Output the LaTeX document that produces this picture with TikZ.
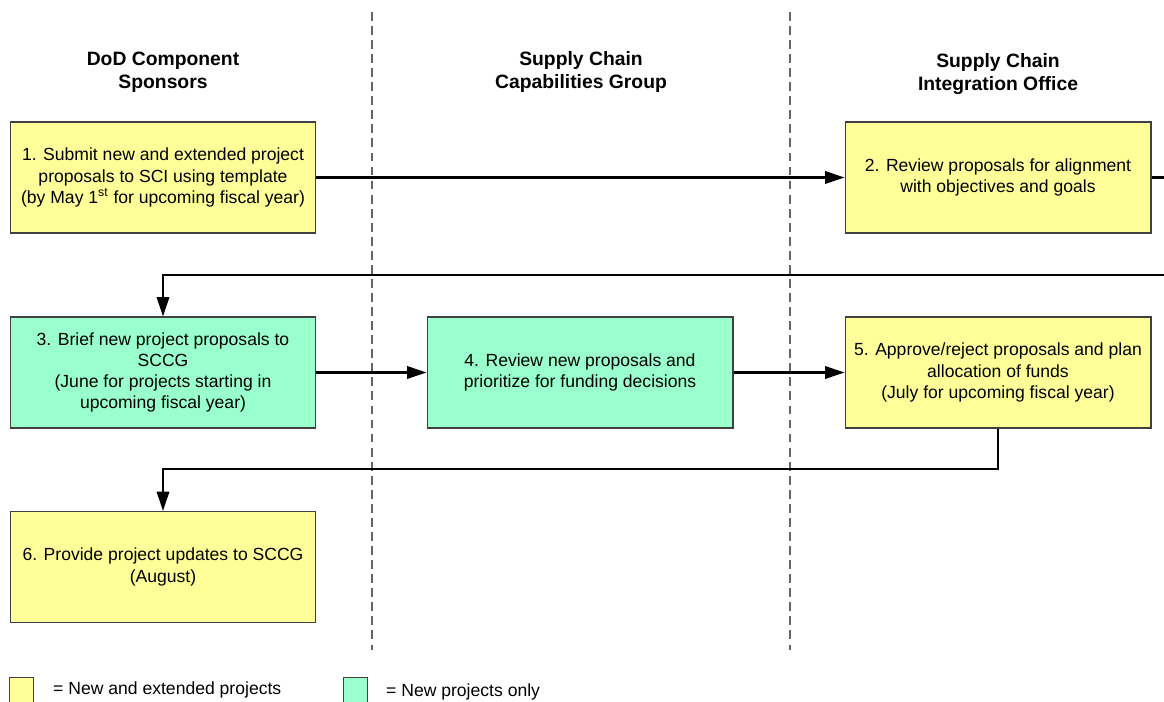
\documentclass[tikz,border=0pt]{standalone}
\usepackage{fontspec}
\setmainfont{Liberation Sans}
\usepackage{xcolor}
\usetikzlibrary{arrows.meta, positioning}

\definecolor{bothyellow}{RGB}{255,255,153}
\definecolor{newgreen}{RGB}{153,255,204}
\definecolor{edgegray}{RGB}{64,64,64}

\begin{document}
\begin{tikzpicture}[x=0.02cm, y=-0.02cm, font=\fontsize{10}{12}\selectfont,
  stepbox/.style={draw=edgegray, line width=0.6pt, minimum width=6.12cm, minimum height=2.22cm, align=center, inner sep=0pt},
  both/.style={stepbox, fill=bothyellow},
  newonly/.style={stepbox, fill=newgreen},
  keybox/.style={draw=edgegray, line width=0.6pt, minimum width=0.48cm, minimum height=0.52cm, inner sep=0pt},
  lane/.style={font=\fontsize{11}{13}\selectfont\bfseries, align=center},
  flow/.style={line width=1.3pt, -{Triangle[length=11pt,width=7pt]}},
  divider/.style={dashed, dash pattern=on 5pt off 3pt, black!60, line width=0.6pt}]
  \clip (0,0) rectangle (1164,702);

  % Swim lane headings and dividers
  \node[lane] (laneA) at (163,72) {DoD Component\\Sponsors};
  \node[lane] (laneB) at (581,72) {Supply Chain\\Capabilities Group};
  \node[lane] (laneC) at (998,74) {Supply Chain\\Integration Office};
  \draw[divider] (372,12) -- (372,650);
  \draw[divider] (790,12) -- (790,650);

  % Process steps
  \node[both] (s1) at (163,177.5) {1. Submit new and extended project\\proposals to SCI using template\\(by May 1\textsuperscript{st} for upcoming fiscal year)};
  \node[both] (s2) at (998,177.5) {2. Review proposals for alignment\\with objectives and goals};
  \node[newonly] (s3) at (163,372.5) {3. Brief new project proposals to\\SCCG\\(June for projects starting in\\upcoming fiscal year)};
  \node[newonly] (s4) at (580,372.5) {4. Review new proposals and\\prioritize for funding decisions};
  \node[both] (s5) at (998,372.5) {5. Approve/reject proposals and plan\\allocation of funds\\(July for upcoming fiscal year)};
  \node[both] (s6) at (163,567) {6. Provide project updates to SCCG\\(August)};

  % Connectors
  \coordinate (turn2) at (1190,275);
  \coordinate (turn5) at (163,469);
  \draw[flow] (s1.east) -- (s2.west);
  \draw[flow] (s2.east) -| (turn2) -| (s3.north);
  \draw[flow] (s3.east) -- (s4.west);
  \draw[flow] (s4.east) -- (s5.west);
  \draw[flow] (s5.south) |- (turn5) -- (s6.north);

  % Legend
  \node[keybox, fill=bothyellow, anchor=north west] (keyA) at (9,677) {};
  \node[anchor=west] (keyAtext) at (47,690) {= New and extended projects};
  \node[keybox, fill=newgreen, anchor=north west] (keyB) at (343,677) {};
  \node[anchor=west] (keyBtext) at (380,692) {= New projects only};
\end{tikzpicture}
\end{document}
